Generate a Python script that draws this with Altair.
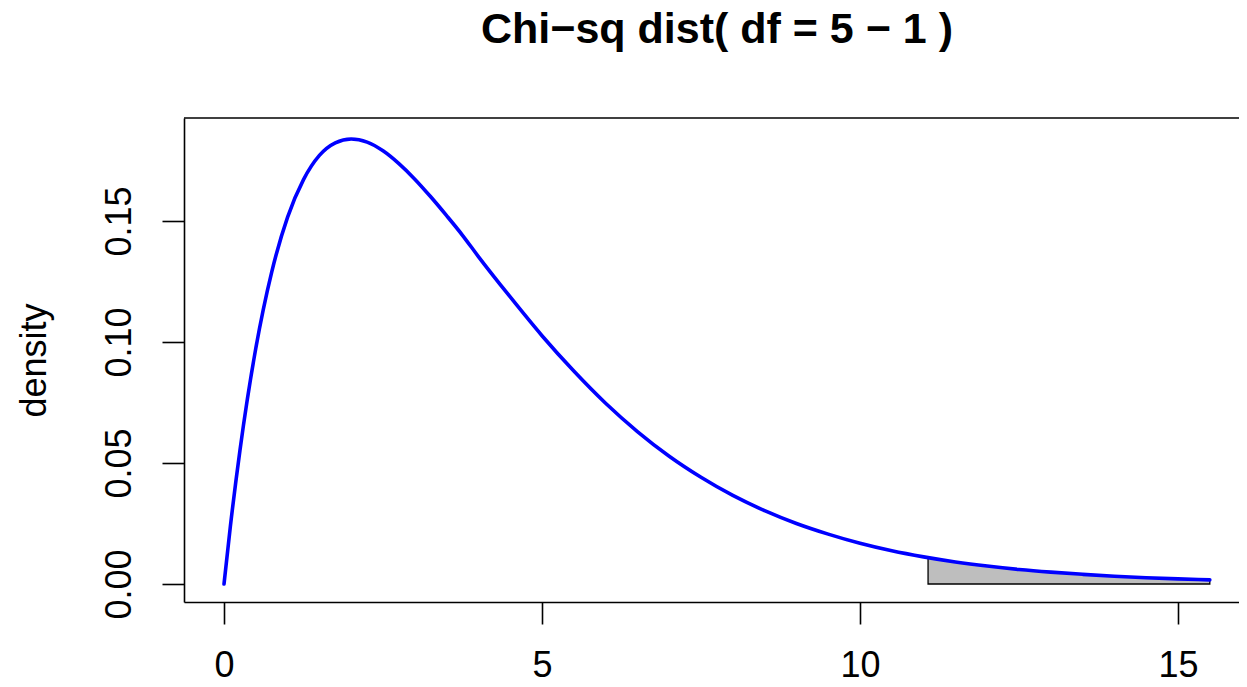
import altair as alt
import pandas as pd

# ---- data ----
x_vals = [0, 0.1, 0.25, 0.5, 0.75, 1, 1.25, 1.5, 1.75, 2, 2.25, 2.5, 2.75, 3, 3.25, 3.5,
          3.75, 4, 4.5, 5, 5.5, 6, 6.5, 7, 7.5, 8, 8.5, 9, 9.5, 10, 10.5, 11, 11.5,
          12, 12.5, 13, 13.5, 14, 14.5, 15, 15.5]
dens_vals = [0.0, 0.0238, 0.0551, 0.0974, 0.1289, 0.1516, 0.1671, 0.1771, 0.1823,
             0.1839, 0.1826, 0.1790, 0.1737, 0.1673, 0.1600, 0.1522, 0.1441, 0.1353,
             0.1186, 0.1026, 0.0880, 0.0747, 0.0630, 0.0528, 0.0441, 0.0366, 0.0303,
             0.0250, 0.0206, 0.0168, 0.0137, 0.0112, 0.0091, 0.0074, 0.0060, 0.0049,
             0.0040, 0.0032, 0.0026, 0.0021, 0.0017]

shade_x = [11.07, 11.5, 12, 12.5, 13, 13.5, 14, 14.5, 15, 15.5]
shade_dens = [0.0109, 0.0091, 0.0074, 0.0060, 0.0049, 0.0040, 0.0032, 0.0026, 0.0021, 0.0017]

x_ticks = [0, 5, 10, 15]
y_ticks = [0.0, 0.05, 0.10, 0.15]
title_text = "Chi\u2212sq dist( df = 5 \u2212 1 )"
y_title = "density"

curve = pd.DataFrame({"x": x_vals, "density": dens_vals})
shade = pd.DataFrame({"x": shade_x, "density": shade_dens, "base": [0.0] * len(shade_x)})

W, H = 1055, 484
FONT = "Liberation Sans"
LW = 1.6

xscale = alt.Scale(domain=[-0.629, 15.959], nice=False, zero=False)
yscale = alt.Scale(domain=[-0.00744, 0.19256], nice=False, zero=False)

xaxis = alt.Axis(values=x_ticks, format="d", title=None, grid=False,
                 tickSize=22, tickWidth=LW, tickColor="black",
                 domainColor="black", domainWidth=LW,
                 labelFont=FONT, labelFontSize=36, labelColor="black",
                 labelPadding=52, labelBaseline="alphabetic", labelAngle=0,
                 labelFlush=False, labelOverlap=False)

yaxis = alt.Axis(values=y_ticks, format=".2f", title=y_title, grid=False,
                 tickSize=22, tickWidth=LW, tickColor="black",
                 domainColor="black", domainWidth=LW,
                 labelFont=FONT, labelFontSize=36, labelColor="black",
                 labelAngle=270, labelAlign="center", labelBaseline="alphabetic",
                 labelPadding=31.8, labelFlush=False, labelOverlap=False,
                 titleFont=FONT, titleFontSize=36, titleFontWeight="normal",
                 titleColor="black", titleAngle=270, titleAlign="center",
                 titleBaseline="alphabetic", titleX=-139, titleY=H / 2)

area = alt.Chart(shade).mark_area(
    color="#BEBEBE", stroke="black", strokeWidth=1.3, interpolate="monotone"
).encode(
    x=alt.X("x:Q", scale=xscale, axis=xaxis),
    y=alt.Y("density:Q", scale=yscale, axis=yaxis),
    y2="base",
)

line = alt.Chart(curve).mark_line(
    color="#0000FF", strokeWidth=3.6, interpolate="monotone", strokeCap="round"
).encode(
    x=alt.X("x:Q", scale=xscale, axis=xaxis),
    y=alt.Y("density:Q", scale=yscale, axis=yaxis),
)

top_rule = alt.Chart(pd.DataFrame({"k": [0]})).mark_rule(
    color="black", strokeWidth=LW
).encode(x=alt.value(0), x2=alt.value(W), y=alt.value(0))

chart = alt.layer(area, line, top_rule).properties(
    width=W, height=H,
    background="white",
    title=alt.TitleParams(text=title_text, font=FONT, fontSize=43, fontWeight="bold",
                          color="black", anchor="middle", frame="group",
                          baseline="alphabetic", offset=31, dx=5.5),
    autosize=alt.AutoSizeParams(type="none"),
    padding={"left": 176, "top": 110, "right": 0, "bottom": 77},
).configure_view(stroke=None)

chart.save("out.html", embed_options={"renderer": "svg", "actions": False})
